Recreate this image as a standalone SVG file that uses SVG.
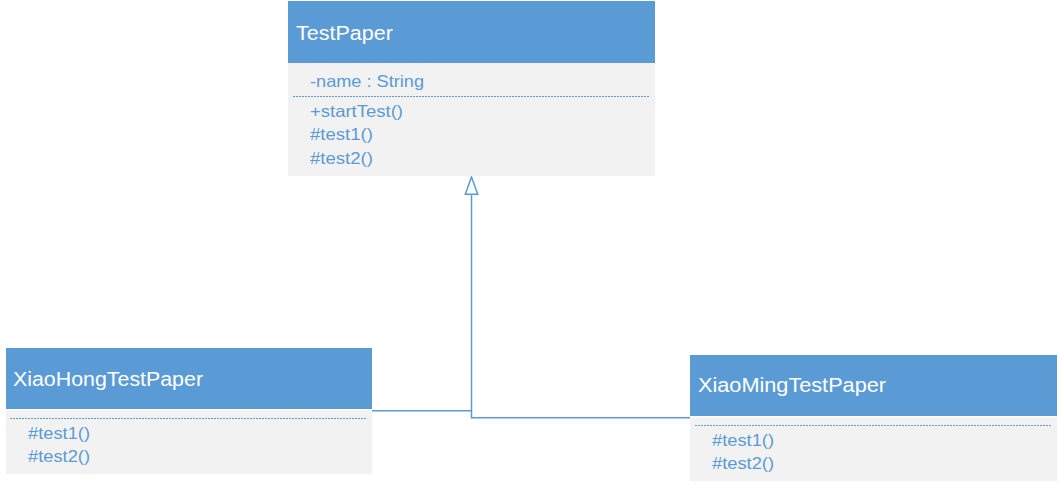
<svg xmlns="http://www.w3.org/2000/svg" width="1059" height="486" viewBox="0 0 1059 486">
<style>
.hdr{fill:#5b9bd5}
.body{fill:#f2f2f2}
.title{font-family:"Liberation Sans",Arial,sans-serif;font-size:20.5px;fill:#ffffff}
.mem{font-family:"Liberation Sans",Arial,sans-serif;font-size:16.5px;fill:#5b9bd5}
.dot{stroke:#5b9bd5;stroke-width:1;stroke-dasharray:2 1;fill:none}
.conn{stroke:#5b9bd5;stroke-width:1.5;fill:none}
.arrow{fill:#ffffff;stroke:#5b9bd5;stroke-width:1.5}
</style>
<rect width="1059" height="486" fill="#ffffff"/>
<g id="connectors">
<polyline class="conn" points="372,410.7 471.5,410.7"/>
<polyline class="conn" points="690,417.7 471.5,417.7 471.5,194"/>
<path class="arrow" d="M471.5,177 L477.7,194.3 L465.3,194.3 Z"/>
</g>
<g id="TestPaper">
<rect class="hdr" x="288" y="1" width="367" height="62"/>
<rect class="body" x="288" y="63" width="367" height="113"/>
<text class="title" x="296" y="40" textLength="97" lengthAdjust="spacingAndGlyphs">TestPaper</text>
<text class="mem" x="310" y="87" textLength="114" lengthAdjust="spacingAndGlyphs">-name : String</text>
<line class="dot" x1="293" y1="96.5" x2="650" y2="96.5"/>
<text class="mem" x="310" y="117" textLength="93" lengthAdjust="spacingAndGlyphs">+startTest()</text>
<text class="mem" x="310" y="140" textLength="63" lengthAdjust="spacingAndGlyphs">#test1()</text>
<text class="mem" x="310" y="164" textLength="63" lengthAdjust="spacingAndGlyphs">#test2()</text>
</g>
<g id="XiaoHongTestPaper">
<rect class="hdr" x="6" y="348" width="366" height="61"/>
<rect class="body" x="6" y="410.5" width="366" height="63.5"/>
<text class="title" x="13" y="386" textLength="190" lengthAdjust="spacingAndGlyphs">XiaoHongTestPaper</text>
<line class="dot" x1="10" y1="418.5" x2="367" y2="418.5"/>
<text class="mem" x="28" y="439" textLength="62" lengthAdjust="spacingAndGlyphs">#test1()</text>
<text class="mem" x="28" y="462" textLength="62" lengthAdjust="spacingAndGlyphs">#test2()</text>
</g>
<g id="XiaoMingTestPaper">
<rect class="hdr" x="690" y="355" width="367" height="61"/>
<rect class="body" x="690" y="417.5" width="367" height="63.5"/>
<text class="title" x="698" y="392" textLength="188" lengthAdjust="spacingAndGlyphs">XiaoMingTestPaper</text>
<line class="dot" x1="695" y1="425.5" x2="1052" y2="425.5"/>
<text class="mem" x="712" y="446" textLength="62" lengthAdjust="spacingAndGlyphs">#test1()</text>
<text class="mem" x="712" y="469" textLength="62" lengthAdjust="spacingAndGlyphs">#test2()</text>
</g>
</svg>
